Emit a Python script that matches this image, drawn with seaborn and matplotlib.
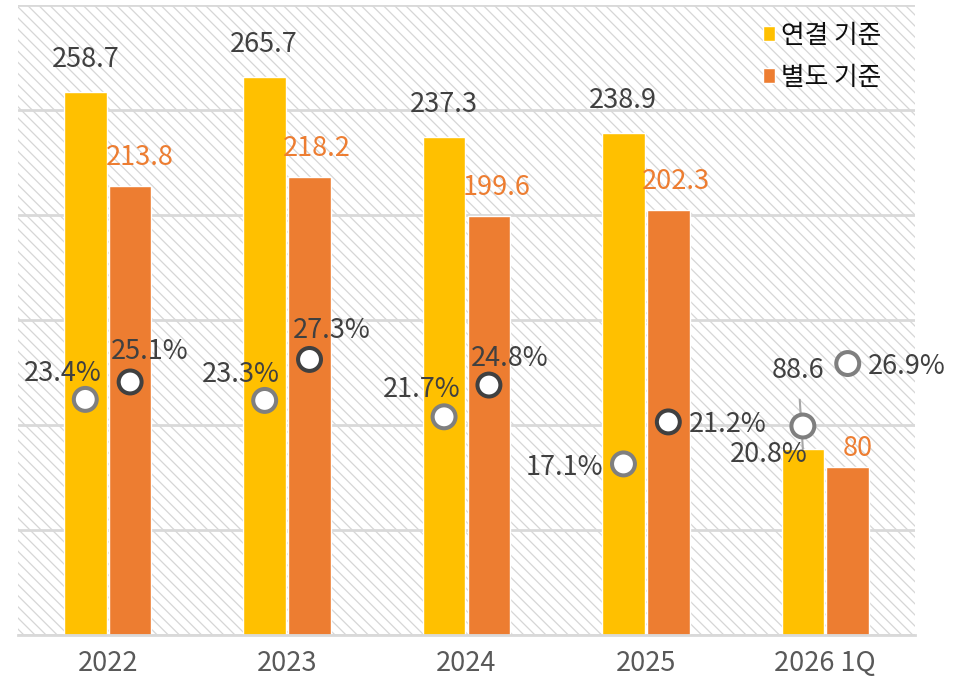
import numpy as np
import pandas as pd
import matplotlib
matplotlib.use("Agg")
import matplotlib.pyplot as plt
import seaborn as sns
from matplotlib.patches import Rectangle

# ---------------- data ----------------
categories = ["2022", "2023", "2024", "2025", "2026 1Q"]
series_names = ["연결 기준", "별도 기준"]
consolidated = [258.7, 265.7, 237.3, 238.9, 88.6]
separate = [213.8, 218.2, 199.6, 202.3, 80]
consolidated_pct = [23.4, 23.3, 21.7, 17.1, 20.8]
separate_pct = [25.1, 27.3, 24.8, 21.2, 26.9]

# ---------------- style ----------------
sns.set_style("white")
plt.rcParams["font.family"] = ["Noto Sans CJK KR", "DejaVu Sans"]
plt.rcParams["hatch.linewidth"] = 0.9

YELLOW = "#FFC000"
ORANGE = "#ED7D31"
DARK = "#404040"
GRAY = "#7F7F7F"
GRID = "#D9D9D9"

# label offsets in pixels (x, baseline-y) relative to anchor
val_off = [
    [(0, 25), (-1, 25), (0, 25), (-1, 25), (-5, 71)],
    [(10, 21), (7, 21), (8, 21), (8, 21), (10, 11)],
]
pct_off = [
    [(-23, 18), (-24, 18), (-22, 20), (-59, -11), (-34, -36)],
    [(20, 23), (22, 21), (21, 19), (59, -10), (59, -10)],
]
pct_colors = [[GRAY] * 5, [DARK] * 4 + [GRAY]]

df = pd.DataFrame({
    "year": categories * 2,
    "value": consolidated + separate,
    "type": [series_names[0]] * len(categories) + [series_names[1]] * len(categories),
})

fig = plt.figure(figsize=(9.66, 6.79), dpi=100)
ax = fig.add_axes([18 / 966, 44 / 679, 897 / 966, 630 / 679])

sns.barplot(data=df, x="year", y="value", hue="type", order=categories,
            hue_order=series_names, palette=[YELLOW, ORANGE], saturation=1,
            width=0.5, gap=0.05, ax=ax, zorder=2)

ax.set_xlim(-0.5, len(categories) - 0.5)
ax.set_ylim(0, 300)
ax.set_yticks(np.arange(0, 301, 50))
ax.set_axisbelow(True)
ax.yaxis.grid(True, color=GRID, lw=2)
ax.xaxis.grid(False)
ax.set_xlabel("")
ax.set_ylabel("")
for s in ["left", "right", "top"]:
    ax.spines[s].set_visible(False)
ax.spines["bottom"].set_color(GRID)
ax.spines["bottom"].set_linewidth(2)
ax.yaxis.set_ticks_position("none")
ax.tick_params(axis="y", which="both", left=False, right=False, length=0,
               labelleft=False)
ax.tick_params(axis="x", which="major", length=0, pad=11, labelsize=19.5,
               labelcolor="#595959")
ax.set_xticks(np.arange(-0.5, len(categories), 1), minor=True)
ax.tick_params(axis="x", which="minor", length=8, width=2, color=GRID)

# hatched background
ax.add_patch(Rectangle((0, 0), 1, 1, transform=ax.transAxes, facecolor="white",
                       edgecolor="#D6D6D6", lw=0, hatch="\\\\\\", zorder=0))

# value labels
val_series = [consolidated, separate]
val_colors = [DARK, ORANGE]
centers = []
for si, cont in enumerate(ax.containers):
    xs = []
    for bi, bar in enumerate(cont):
        x = bar.get_x() + bar.get_width() / 2
        xs.append(x)
        v = val_series[si][bi]
        dx, dy = val_off[si][bi]
        kw = {}
        if si == 0 and bi == len(categories) - 1:
            kw["arrowprops"] = dict(arrowstyle="-", color="#A6A6A6", lw=1.5,
                                    shrinkA=9, shrinkB=0)
        ax.annotate(f"{v:g}", xy=(x, bar.get_height()), xytext=(dx, dy),
                    textcoords="offset pixels", ha="center", va="baseline",
                    fontsize=19.5, color=val_colors[si], zorder=6, **kw)
    centers.append(xs)

# legend
handles, labels = ax.get_legend_handles_labels()
ax.legend(handles, labels, loc="upper left", bbox_to_anchor=(0.8305, 0.972),
          frameon=False, fontsize=18.5, handlelength=0.48, handleheight=0.48,
          handletextpad=0.22, labelspacing=0.62, borderpad=0, borderaxespad=0,
          labelcolor="#0D0D0D")

# percentage markers on secondary axis
ax2 = ax.twinx()
ax2.set_ylim(0.4, 61.9)
ax2.set_axis_off()
for si, pcts in enumerate([consolidated_pct, separate_pct]):
    ax2.scatter(centers[si], pcts, s=16.5 ** 2, facecolors="white",
                edgecolors=pct_colors[si], linewidths=2.9, zorder=5)
    for bi, p in enumerate(pcts):
        dx, dy = pct_off[si][bi]
        ax2.annotate(f"{p:.1f}%", xy=(centers[si][bi], p), xytext=(dx, dy),
                     textcoords="offset pixels", ha="center", va="baseline",
                     fontsize=19.5, color=DARK, zorder=6)

fig.savefig("out.png", dpi=100)
